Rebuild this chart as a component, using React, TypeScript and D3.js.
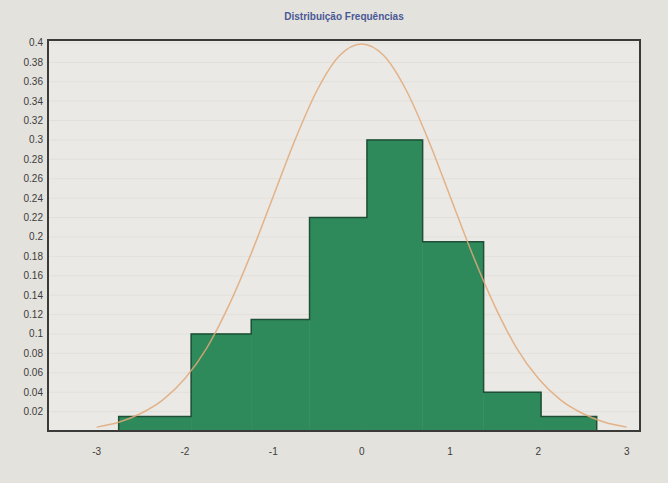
import { useRef, useEffect } from "react";
import * as d3 from "d3";

// histogram bins (edges) and relative frequencies
const binEdges = [-2.75, -1.93, -1.25, -0.59, 0.06, 0.69, 1.38, 2.03, 2.66];
const binFreqs = [0.015, 0.1, 0.115, 0.22, 0.3, 0.195, 0.04, 0.015];

// fitted normal curve, read point by point
const curveX = [-3, -2.75, -2.5, -2.25, -2, -1.75, -1.5, -1.25, -1, -0.75, -0.5, -0.25, 0, 0.25, 0.5, 0.75, 1, 1.25, 1.5, 1.75, 2, 2.25, 2.5, 2.75, 3];
const curveY = [0.004, 0.009, 0.018, 0.032, 0.054, 0.086, 0.13, 0.183, 0.242, 0.301, 0.352, 0.387, 0.399, 0.387, 0.352, 0.301, 0.242, 0.183, 0.13, 0.086, 0.054, 0.032, 0.018, 0.009, 0.004];

const xTicks = [-3, -2, -1, 0, 1, 2, 3];
const yTicks = [0.02, 0.04, 0.06, 0.08, 0.1, 0.12, 0.14, 0.16, 0.18, 0.2, 0.22, 0.24, 0.26, 0.28, 0.3, 0.32, 0.34, 0.36, 0.38, 0.4];
const title = "Distribuição Frequências";

const Chart = () => {
  const ref = useRef(null);

  useEffect(() => {
    const width = 668;
    const height = 483;
    const margin = { top: 40, right: 28, bottom: 52, left: 48 };

    const svg = d3
      .select(ref.current)
      .append("svg")
      .attr("width", width)
      .attr("height", height)
      .style("position", "absolute")
      .style("left", 0)
      .style("top", 0)
      .style("font-family", "'Liberation Sans', Arial, sans-serif");

    svg.append("rect").attr("width", width).attr("height", height).attr("fill", "#e4e2dd");

    const x = d3.scaleLinear().domain([-3.55, 3.15]).range([margin.left, width - margin.right]);
    const y = d3.scaleLinear().domain([0, 0.403]).range([height - margin.bottom, margin.top]);

    svg
      .append("rect")
      .attr("x", margin.left)
      .attr("y", margin.top)
      .attr("width", width - margin.left - margin.right)
      .attr("height", height - margin.top - margin.bottom)
      .attr("fill", "#ebe9e5");

    // faint grid
    svg
      .append("g")
      .selectAll("line")
      .data(yTicks)
      .enter()
      .append("line")
      .attr("x1", margin.left)
      .attr("x2", width - margin.right)
      .attr("y1", d => y(d))
      .attr("y2", d => y(d))
      .attr("stroke", "#e2e0db")
      .attr("stroke-width", 1);

    const bins = binFreqs.map((f, i) => ({ x0: binEdges[i], x1: binEdges[i + 1], f }));

    svg
      .append("g")
      .selectAll("rect")
      .data(bins)
      .enter()
      .append("rect")
      .attr("x", d => x(d.x0))
      .attr("y", d => y(d.f))
      .attr("width", d => x(d.x1) - x(d.x0))
      .attr("height", d => y(0) - y(d.f))
      .attr("fill", "#2f8a5b")
      .attr("stroke", "#2f8a5b")
      .attr("stroke-width", 0.5);

    // outer step outline of the histogram
    const outline: [number, number][] = [[binEdges[0], 0]];
    bins.forEach(b => {
      outline.push([b.x0, b.f]);
      outline.push([b.x1, b.f]);
    });
    outline.push([binEdges[binEdges.length - 1], 0]);

    svg
      .append("path")
      .datum(outline)
      .attr(
        "d",
        d3
          .line<[number, number]>()
          .x(d => x(d[0]))
          .y(d => y(d[1]))
      )
      .attr("fill", "none")
      .attr("stroke", "#1f4f36")
      .attr("stroke-width", 1.5);

    const line = d3
      .line<number>()
      .x((_d, i) => x(curveX[i]))
      .y(d => y(d))
      .curve(d3.curveMonotoneX);

    svg
      .append("path")
      .datum(curveY)
      .attr("d", line)
      .attr("fill", "none")
      .attr("stroke", "#e0a878")
      .attr("stroke-width", 1.5)
      .attr("stroke-opacity", 0.85);

    // frame
    svg
      .append("rect")
      .attr("x", margin.left)
      .attr("y", margin.top)
      .attr("width", width - margin.left - margin.right)
      .attr("height", height - margin.top - margin.bottom)
      .attr("fill", "none")
      .attr("stroke", "#3a3a38")
      .attr("stroke-width", 2);

    svg
      .append("g")
      .selectAll("text")
      .data(yTicks)
      .enter()
      .append("text")
      .attr("x", margin.left - 5)
      .attr("y", d => y(d))
      .attr("dy", "0.35em")
      .attr("text-anchor", "end")
      .attr("font-size", 10)
      .attr("fill", "#3b3b3b")
      .text(d => String(+d.toFixed(2)));

    svg
      .append("g")
      .selectAll("text")
      .data(xTicks)
      .enter()
      .append("text")
      .attr("x", d => x(d))
      .attr("y", height - margin.bottom + 24)
      .attr("text-anchor", "middle")
      .attr("font-size", 10)
      .attr("fill", "#3b3b3b")
      .text(d => String(d));

    svg
      .append("text")
      .attr("x", (margin.left + width - margin.right) / 2)
      .attr("y", 20)
      .attr("text-anchor", "middle")
      .attr("font-size", 10)
      .attr("font-weight", "bold")
      .attr("fill", "#4a5896")
      .text(title);

    return () => {
      svg.remove();
    };
  }, []);

  return <div ref={ref}></div>;
};

export default function App() {
  return <Chart />;
}
